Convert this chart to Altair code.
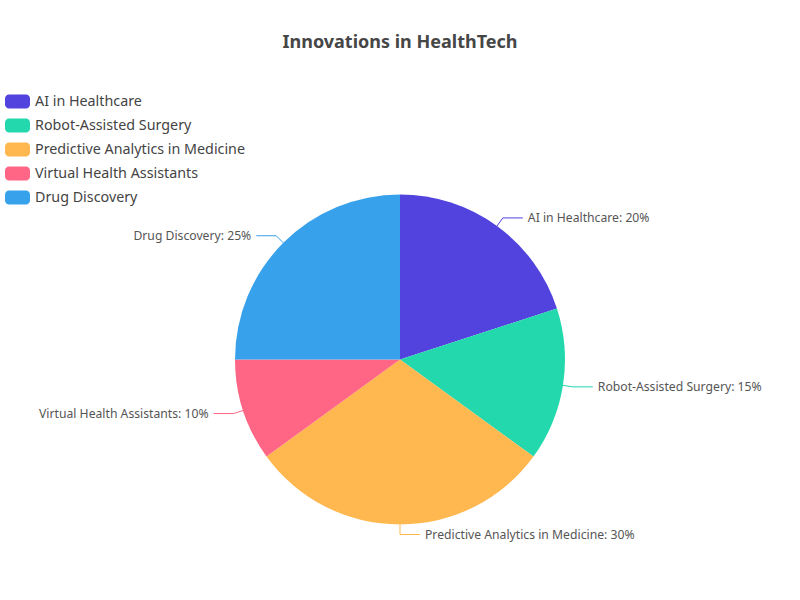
import altair as alt
import pandas as pd

categories = ["AI in Healthcare", "Robot-Assisted Surgery", "Predictive Analytics in Medicine",
              "Virtual Health Assistants", "Drug Discovery"]
values = [20, 15, 30, 10, 25]
colors = ["#5243DE", "#22D8AC", "#FFB74F", "#FF6584", "#38A1EB"]
title_text = "Innovations in HealthTech"

df = pd.DataFrame({"category": categories, "value": values, "idx": list(range(len(categories)))})

CX, CY, R = 400, 359.5, 165
FONT = "Noto Sans"

color = alt.Color("category:N", scale=alt.Scale(domain=categories, range=colors), legend=None)

base = alt.Chart(df).transform_joinaggregate(
    total="sum(value)"
).transform_window(
    cum="sum(value)", sort=[alt.SortField("idx")], frame=[None, 0]
).transform_calculate(
    mid="(datum.cum - datum.value/2)/datum.total*2*PI",
    pct="format(datum.value, 'd') + '%'",
).transform_calculate(
    s="sin(datum.mid)", c="cos(datum.mid)",
).transform_calculate(
    side="datum.s > -0.000001 ? 1 : -1",
    ex=f"{CX} + {R}*datum.s", ey=f"{CY} - {R}*datum.c",
    bx=f"{CX} + {R+10}*datum.s", by=f"{CY} - {R+10}*datum.c",
).transform_calculate(
    hx="datum.bx + 20*datum.side",
    tx="datum.bx + 25*datum.side",
    label="datum.category + ': ' + datum.pct",
)

pie = alt.Chart(df).mark_arc(outerRadius=R).encode(
    theta=alt.Theta("value:Q", stack=True),
    order=alt.Order("idx:Q"),
    color=color,
    x=alt.value(CX), y=alt.value(CY),
)

seg1 = base.mark_rule(strokeWidth=1).encode(
    x=alt.X("ex:Q", scale=None), y=alt.Y("ey:Q", scale=None),
    x2="bx:Q", y2="by:Q", color=color,
)
seg2 = base.mark_rule(strokeWidth=1).encode(
    x=alt.X("bx:Q", scale=None), y=alt.Y("by:Q", scale=None),
    x2="hx:Q", y2="by:Q", color=color,
)
lab_r = base.transform_filter("datum.side > 0").mark_text(
    align="left", baseline="middle", font=FONT, fontSize=12.2, color="#555555"
).encode(x=alt.X("tx:Q", scale=None), y=alt.Y("by:Q", scale=None), text="label:N")
lab_l = base.transform_filter("datum.side < 0").mark_text(
    align="right", baseline="middle", font=FONT, fontSize=12.2, color="#555555"
).encode(x=alt.X("tx:Q", scale=None), y=alt.Y("by:Q", scale=None), text="label:N")

leg = alt.Chart(df).transform_calculate(
    ly="101.5 + 24*datum.idx", ly1="101.5 + 24*datum.idx - 7", ly2="101.5 + 24*datum.idx + 7",
    lx1="5", lx2="30", tx="35",
)
leg_sym = leg.mark_rect(cornerRadius=4).encode(
    x=alt.X("lx1:Q", scale=None), x2="lx2:Q",
    y=alt.Y("ly1:Q", scale=None), y2="ly2:Q", color=color,
)
leg_txt = leg.mark_text(align="left", baseline="middle", font=FONT, fontSize=14.3, color="#444444").encode(
    x=alt.X("tx:Q", scale=None), y=alt.Y("ly:Q", scale=None), text="category:N",
)

title = alt.Chart(pd.DataFrame({"t": [title_text]})).mark_text(
    align="center", baseline="middle", font=FONT, fontSize=18, fontWeight="bold", color="#464646"
).encode(x=alt.value(400), y=alt.value(43), text="t:N")

chart = alt.layer(pie, seg1, seg2, lab_r, lab_l, leg_sym, leg_txt, title).properties(
    width=800, height=600, autosize=alt.AutoSizeParams(type="none"), padding=0,
    background="white",
).configure_view(stroke=None)

chart.save("out.html", embed_options={"renderer": "svg", "actions": False})
